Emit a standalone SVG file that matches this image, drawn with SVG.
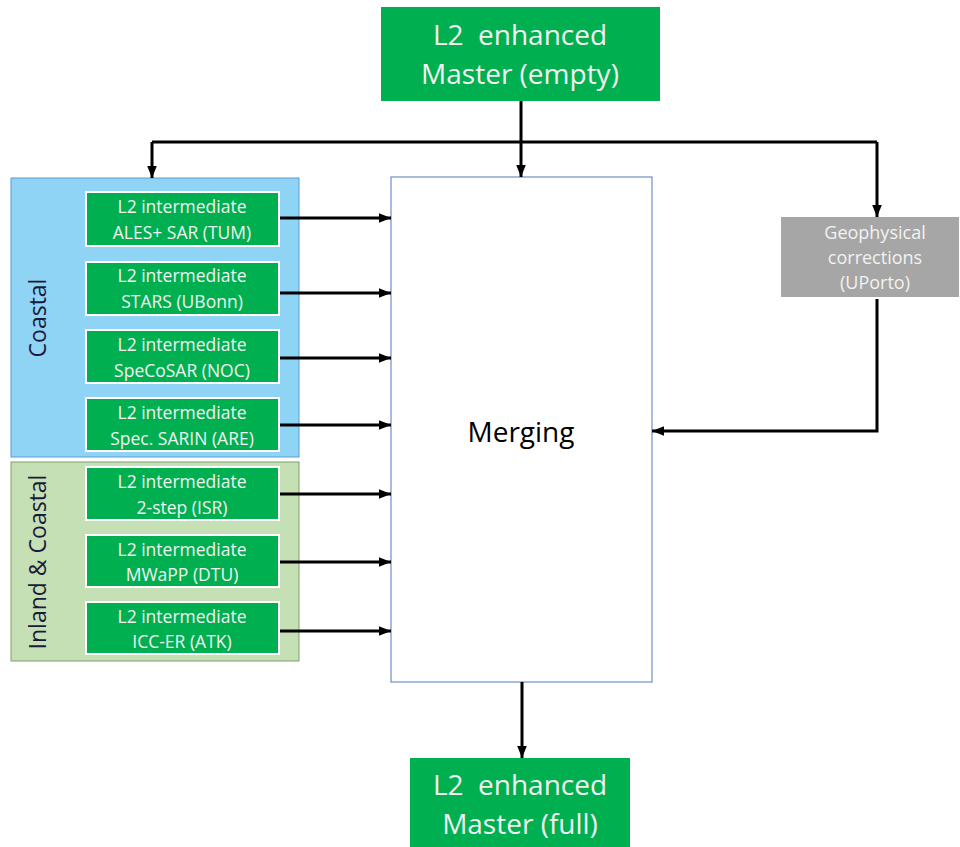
<svg xmlns="http://www.w3.org/2000/svg" width="960" height="847" viewBox="0 0 960 847">
<defs>
<marker id="ah" viewBox="0 0 10 10" refX="10" refY="5" markerWidth="4" markerHeight="4" orient="auto" markerUnits="strokeWidth"><path d="M0,1 L10,5 L0,9 z" fill="#000"/></marker>
<style>
.t{font-family:"Open Sans","Liberation Sans",sans-serif;fill:#f2f2f2;text-anchor:middle}
.g{fill:#00b050}
.s{fill:#00b050;stroke:#fff;stroke-width:2}
.c{stroke:#000;stroke-width:3;fill:none}
.ca{stroke:#000;stroke-width:3;fill:none;marker-end:url(#ah)}
.st{font-size:17.5px}
.lab{font-family:"Open Sans","Liberation Sans",sans-serif;font-size:23px;fill:#1a1a3a;text-anchor:middle}
</style>
</defs>
<rect width="960" height="847" fill="#fff"/>
<g id="coastal-group">
<rect x="11" y="178" width="288" height="279" fill="#8fd3f5" stroke="#5b9bd5" stroke-width="1"/>
<text class="lab" transform="translate(46,318) rotate(-90)">Coastal</text>
</g>
<g id="inland-group">
<rect x="11" y="462" width="288" height="199" fill="#c5e0b4" stroke="#7f9f6f" stroke-width="1"/>
<text class="lab" transform="translate(46,562) rotate(-90)">Inland &amp; Coastal</text>
</g>
<g id="master-empty">
<rect class="g" x="381" y="7" width="279" height="94"/>
<text class="t" x="520" y="45" font-size="28" xml:space="preserve">L2  enhanced</text>
<text class="t" x="520" y="84" font-size="28">Master (empty)</text>
</g>
<g id="merging">
<rect x="391" y="177" width="261" height="505" fill="#fff" stroke="#6f8fc8" stroke-width="1.2"/>
<text x="521" y="442" font-family="Open Sans, Liberation Sans, sans-serif" font-size="28" text-anchor="middle" fill="#000">Merging</text>
</g>
<g id="geo">
<rect x="781" y="217" width="178" height="80" fill="#a6a6a6"/>
<text class="t" x="875" y="239" font-size="18">Geophysical</text>
<text class="t" x="875" y="264" font-size="18">corrections</text>
<text class="t" x="875" y="289" font-size="18">(UPorto)</text>
</g>
<g id="n1"><rect class="s" x="86" y="192" width="193" height="54"/><text class="t st" x="182" y="213">L2 intermediate</text><text class="t st" x="182" y="239">ALES+ SAR (TUM)</text></g>
<g id="n2"><rect class="s" x="86" y="262" width="193" height="53"/><text class="t st" x="182" y="282">L2 intermediate</text><text class="t st" x="182" y="308">STARS (UBonn)</text></g>
<g id="n3"><rect class="s" x="86" y="330" width="193" height="53"/><text class="t st" x="182" y="351">L2 intermediate</text><text class="t st" x="182" y="377">SpeCoSAR (NOC)</text></g>
<g id="n4"><rect class="s" x="86" y="398" width="193" height="53"/><text class="t st" x="182" y="419">L2 intermediate</text><text class="t st" x="182" y="445">Spec. SARIN (ARE)</text></g>
<g id="n5"><rect class="s" x="86" y="467" width="193" height="53"/><text class="t st" x="182" y="488">L2 intermediate</text><text class="t st" x="182" y="514">2-step (ISR)</text></g>
<g id="n6"><rect class="s" x="86" y="535" width="193" height="52"/><text class="t st" x="182" y="556">L2 intermediate</text><text class="t st" x="182" y="581">MWaPP (DTU)</text></g>
<g id="n7"><rect class="s" x="86" y="602" width="193" height="52"/><text class="t st" x="182" y="623">L2 intermediate</text><text class="t st" x="182" y="648">ICC-ER (ATK)</text></g>
<g id="master-full">
<rect class="g" x="410" y="758" width="220" height="89"/>
<text class="t" x="520" y="795" font-size="28" xml:space="preserve">L2  enhanced</text>
<text class="t" x="520" y="834" font-size="28">Master (full)</text>
</g>
<g id="connectors">
<path class="c" d="M152,142 H877"/>
<path class="ca" d="M521,101 V177"/>
<path class="ca" d="M152,142 V178"/>
<path class="ca" d="M877,142 V217"/>
<path class="ca" d="M877,299 V431 H652"/>
<path class="ca" d="M522,682 V758"/>
<path class="ca" d="M280,218 H391"/>
<path class="ca" d="M280,293 H391"/>
<path class="ca" d="M280,358 H391"/>
<path class="ca" d="M280,425 H391"/>
<path class="ca" d="M280,494 H391"/>
<path class="ca" d="M280,562 H391"/>
<path class="ca" d="M280,631 H391"/>
</g>
</svg>
